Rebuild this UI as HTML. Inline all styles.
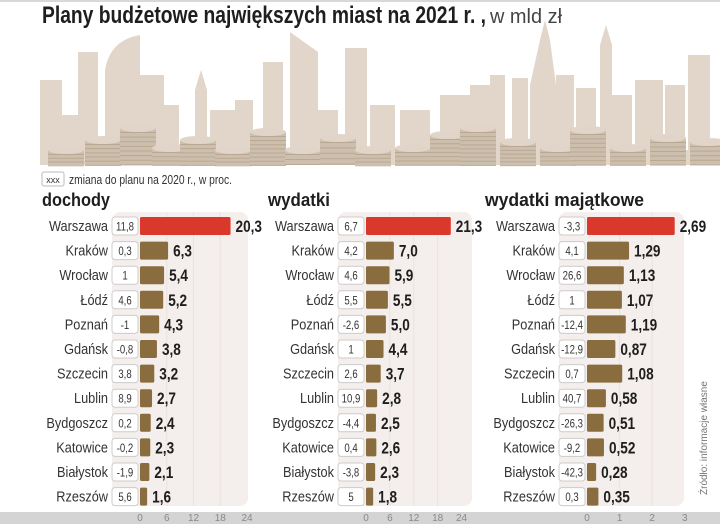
<!DOCTYPE html>
<html><head><meta charset="utf-8"><style>
body{margin:0;background:#fff;width:720px;height:524px;overflow:hidden}
svg{display:block}
text{font-family:"Liberation Sans Narrow","Liberation Sans",sans-serif}
</style></head><body>
<svg id="s" width="720" height="524" xmlns="http://www.w3.org/2000/svg">
<rect x="0" y="0" width="720" height="2" fill="#d8d8d8"/>
<g fill="#e2d6cb">
<rect x="40" y="80" width="22" height="85"/><rect x="62" y="115" width="20" height="50"/>
<rect x="78" y="52" width="20" height="113"/><path d="M105 165 V70 Q110 40 140 35 V165Z"/>
<rect x="140" y="75" width="24" height="90"/><rect x="164" y="105" width="15" height="60"/>
<path d="M195 165 V90 L201 70 L207 90 V165Z"/><rect x="210" y="110" width="25" height="55"/>
<rect x="235" y="100" width="18" height="65"/><rect x="263" y="62" width="20" height="103"/>
<path d="M290 165 V32 L318 52 V165Z"/><rect x="318" y="110" width="20" height="55"/>
<rect x="345" y="48" width="22" height="117"/><rect x="370" y="105" width="25" height="60"/>
<rect x="400" y="110" width="30" height="55"/><rect x="440" y="95" width="30" height="70"/>
<rect x="470" y="85" width="20" height="80"/><rect x="490" y="75" width="15" height="90"/>
<rect x="512" y="78" width="16" height="87"/><path d="M530 165 V85 L540 40 L545 20 L550 40 L556 85 V165Z"/>
<rect x="556" y="75" width="18" height="90"/><rect x="576" y="88" width="20" height="77"/>
<path d="M600 165 V45 L606 25 L612 45 V165Z"/><rect x="612" y="95" width="20" height="70"/>
<rect x="635" y="80" width="28" height="85"/><rect x="665" y="85" width="20" height="80"/>
<rect x="688" y="55" width="22" height="110"/><rect x="40" y="150" width="670" height="15"/>
</g>
<g id="coins"></g>
<rect x="42" y="172" width="22" height="14" rx="2" fill="#fff" stroke="#bbb"/>
<text x="53" y="183" font-size="9" text-anchor="middle" fill="#333">xxx</text>
<text x="69" y="184" font-size="13" fill="#333" textLength="163" lengthAdjust="spacingAndGlyphs">zmiana do planu na 2020 r., w proc.</text>
<text x="42" y="23" font-size="24" font-weight="bold" fill="#1e1e1e" textLength="444" lengthAdjust="spacingAndGlyphs">Plany budżetowe największych miast na 2021 r. ,</text>
<text x="490" y="23" font-size="20" fill="#444" textLength="72" lengthAdjust="spacingAndGlyphs">w mld zł</text>
<text x="42" y="206" font-size="18" font-weight="bold" fill="#1e1e1e" textLength="68" lengthAdjust="spacingAndGlyphs">dochody</text>
<text x="268" y="206" font-size="18" font-weight="bold" fill="#1e1e1e" textLength="62" lengthAdjust="spacingAndGlyphs">wydatki</text>
<text x="485" y="206" font-size="18" font-weight="bold" fill="#1e1e1e" textLength="159" lengthAdjust="spacingAndGlyphs">wydatki majątkowe</text>
<text transform="translate(707,495) rotate(-90)" font-size="10" fill="#777">Źródło: informacje własne</text>
<rect x="0" y="512" width="720" height="12" fill="#d4d4d4"/>
<g id="ch"></g>
</svg>
<script>
var ns="http://www.w3.org/2000/svg",ch=document.getElementById('ch'),co=document.getElementById('coins');
function el(t,a,txt,p){var e=document.createElementNS(ns,t);for(var k in a)e.setAttribute(k,a[k]);if(txt!=null)e.textContent=txt;(p||ch).appendChild(e);return e;}
function ct(x,y,s,a,txt){a.transform='translate('+x+','+y+') scale('+s+',1)';a.x=0;a.y=0;return el('text',a,txt);}
var stacks=[[48,150,4],[85,140,6],[120,128,8],[152,148,4],[180,140,6],[215,150,4],[250,132,8],[285,150,3],[320,138,5],[355,150,4],[395,148,4],[430,135,7],[460,128,9],[500,142,6],[540,148,4],[570,130,8],[610,148,4],[650,138,6],[690,142,5]];
stacks.forEach(function(s){var x=s[0],top=s[1],n=s[2],w=36;
 el('rect',{x:x,y:top,width:w,height:165-top,fill:'#cdbfae'},null,co);
 for(var i=0;i<n;i++){el('rect',{x:x,y:top+4+i*((165-top)/n),width:w,height:1,fill:'#b9a893'},null,co);}
 el('ellipse',{cx:x+w/2,cy:top,rx:w/2,ry:4,fill:'#e0d5c8'},null,co);});
var cities=["Warszawa","Kraków","Wrocław","Łódź","Poznań","Gdańsk","Szczecin","Lublin","Bydgoszcz","Katowice","Białystok","Rzeszów"];
var P=[
 {lab:108,box:112,x0:140,sc:4.46,px:[112,248],ticks:[0,6,12,18,24],
  c:["11,8","0,3","1","4,6","-1","-0,8","3,8","8,9","0,2","-0,2","-1,9","5,6"],
  v:["20,3","6,3","5,4","5,2","4,3","3,8","3,2","2,7","2,4","2,3","2,1","1,6"]},
 {lab:334,box:338,x0:366,sc:3.98,px:[338,472],ticks:[0,6,12,18,24],
  c:["6,7","4,2","4,6","5,5","-2,6","1","2,6","10,9","-4,4","0,4","-3,8","5"],
  v:["21,3","7,0","5,9","5,5","5,0","4,4","3,7","2,8","2,5","2,6","2,3","1,8"]},
 {lab:555,box:559,x0:587,sc:32.6,px:[559,684],ticks:[0,1,2,3],
  c:["-3,3","4,1","26,6","1","-12,4","-12,9","0,7","40,7","-26,3","-9,2","-42,3","0,3"],
  v:["2,69","1,29","1,13","1,07","1,19","0,87","1,08","0,58","0,51","0,52","0,28","0,35"]}];
P.forEach(function(p){
 el('rect',{x:p.px[0],y:212,width:p.px[1]-p.px[0],height:294,rx:8,fill:'#f4eeec'});
 p.ticks.forEach(function(t,i){var x=p.x0+t*p.sc;
  if(i>0&&i<p.ticks.length-1)el('line',{x1:x,y1:212,x2:x,y2:506,stroke:'#ebe2df','stroke-width':1});
  el('text',{x:x,y:521,'font-size':10,'text-anchor':'middle',fill:'#888'},String(t));});
 cities.forEach(function(c,i){var y=226+i*24.6,val=parseFloat(p.v[i].replace(',','.')),w=Math.max(val*p.sc,5);
  ct(p.lab,y+5,0.88,{'font-size':14.5,'text-anchor':'end',fill:'#333'},c);
  el('rect',{x:p.box,y:y-9,width:26,height:18,rx:3,fill:'#fff',stroke:'#ccc'});
  ct(p.box+13,y+4.5,0.8,{'font-size':12,'text-anchor':'middle',fill:'#333'},p.c[i]);
  el('rect',{x:p.x0,y:y-9,width:w,height:18,rx:1.5,fill:i==0?'#d9382b':'#8a6d3e'});
  ct(p.x0+w+5,y+6,0.8,{'font-size':17,'font-weight':'bold',fill:'#1e1e1e'},p.v[i]);});
});
</script>
</body></html>
